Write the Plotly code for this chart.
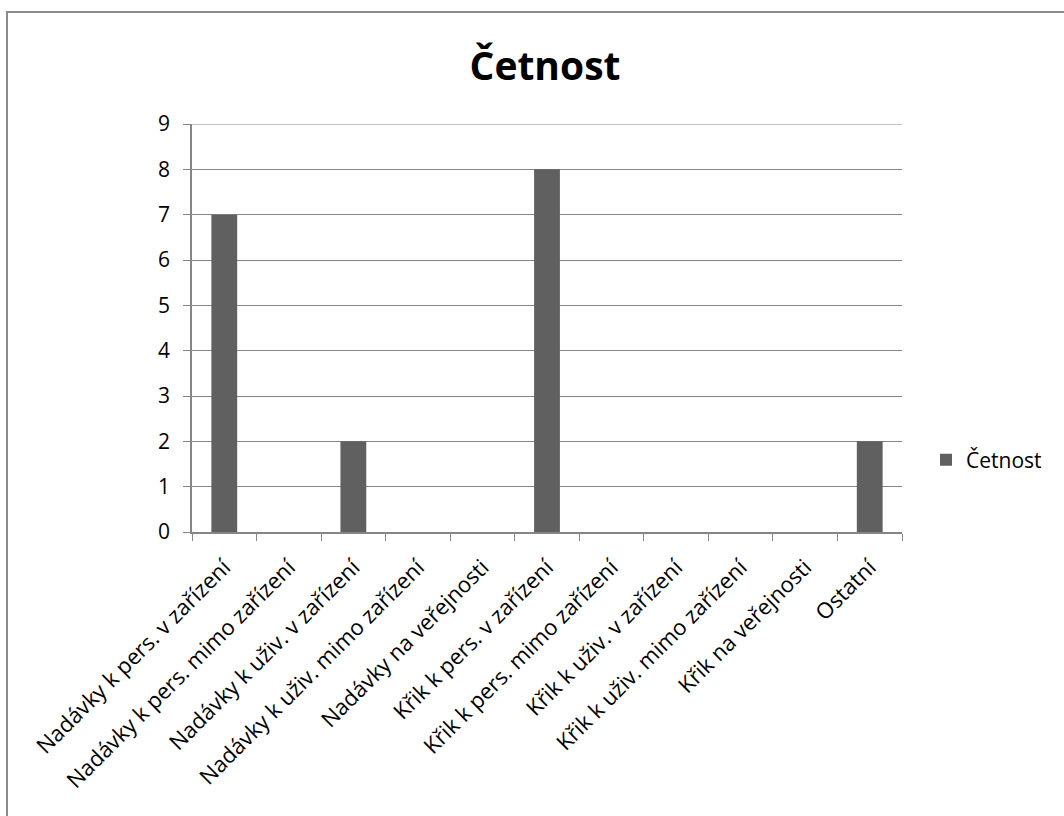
import plotly.graph_objects as go

# Category labels and counts
categories = [
    "Nadávky k pers. v zařízení",
    "Nadávky k pers. mimo zařízení",
    "Nadávky k uživ. v zařízení",
    "Nadávky k uživ. mimo zařízení",
    "Nadávky na veřejnosti",
    "Křik k pers. v zařízení",
    "Křik k pers. mimo zařízení",
    "Křik k uživ. v zařízení",
    "Křik k uživ. mimo zařízení",
    "Křik na veřejnosti",
    "Ostatní",
]
counts = [7, 0, 2, 0, 0, 8, 0, 0, 0, 0, 2]
series_name = "Četnost"
y_ticks = list(range(0, 10))

W, H = 1064, 816
ML, MR, MT, MB = 192, 162, 124, 284
PW, PH = W - ML - MR, H - MT - MB

def px_x(p):
    return (p - ML) / PW

def px_y(p):
    return (H - MB - p) / PH

FONT = "Open Sans"
GRID = "#868686"

fig = go.Figure(
    go.Bar(
        x=categories,
        y=counts,
        name=series_name,
        width=0.4,
        marker=dict(color="#606060", line=dict(width=0)),
        showlegend=True,
    )
)

fig.update_layout(
    width=W,
    height=H,
    margin=dict(l=ML, r=MR, t=MT, b=MB),
    paper_bgcolor="white",
    plot_bgcolor="white",
    font=dict(family=FONT, size=21, color="black"),
    title=dict(
        text="<b>Četnost</b>",
        font=dict(family=FONT, size=39, color="black"),
        x=px_x(545),
        xref="paper",
        xanchor="center",
        y=1 - 66 / H,
        yanchor="middle",
    ),
    legend=dict(
        x=px_x(926),
        y=px_y(460),
        xref="paper",
        yref="paper",
        xanchor="left",
        yanchor="middle",
        font=dict(family=FONT, size=21, color="black"),
        bgcolor="rgba(0,0,0,0)",
    ),
    bargap=0.6,
    shapes=[
        # outer chart frame
        dict(
            type="rect",
            xref="paper",
            yref="paper",
            x0=px_x(7),
            x1=px_x(1075),
            y0=px_y(12),
            y1=px_y(830),
            line=dict(color="#8c8c8c", width=2),
            fillcolor="rgba(0,0,0,0)",
            layer="below",
        ),
        # top gridline (at the upper end of the value range)
        dict(
            type="line",
            xref="paper",
            yref="y",
            x0=0,
            x1=1,
            y0=y_ticks[-1],
            y1=y_ticks[-1],
            line=dict(color=GRID, width=1.2),
            layer="below",
        ),
    ],
)

fig.update_xaxes(
    type="category",
    range=[-0.5, len(categories) - 0.5],
    tickangle=-45,
    tickson="boundaries",
    ticks="outside",
    ticklen=7,
    tickcolor=GRID,
    showline=True,
    linecolor=GRID,
    linewidth=1.5,
    showgrid=False,
    ticklabelstandoff=12,
    tickfont=dict(family=FONT, size=22, color="black"),
)

fig.update_yaxes(
    range=[0, 9],
    tickvals=y_ticks,
    ticks="outside",
    ticklen=7,
    tickcolor=GRID,
    showline=True,
    linecolor=GRID,
    linewidth=1.5,
    showgrid=True,
    gridcolor=GRID,
    gridwidth=1.2,
    zeroline=False,
    ticklabelstandoff=9,
    tickfont=dict(family=FONT, size=21, color="black"),
)

fig.write_html("out.html")
